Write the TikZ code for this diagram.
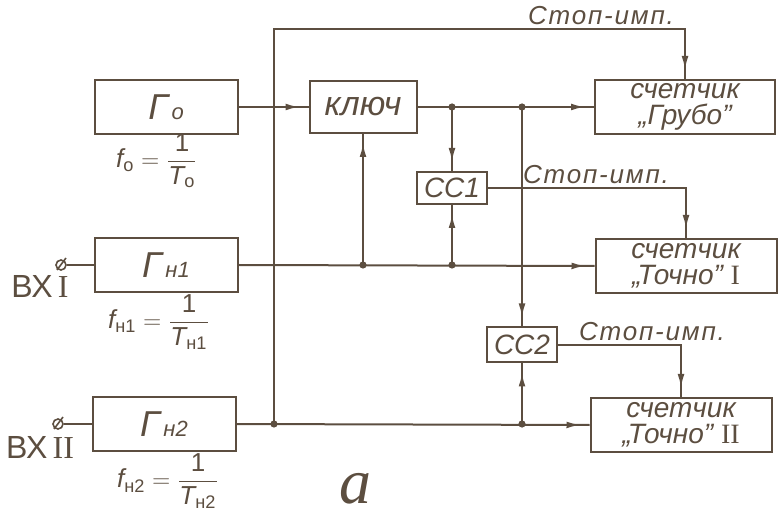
\documentclass[tikz,border=0pt]{standalone}
\usepackage{amsmath}
\usepackage{fontspec}
\setmainfont{Liberation Sans}
\newfontfamily\romfont{Liberation Serif}
\newfontfamily\handfont[LetterSpace=7]{Liberation Sans}
\usetikzlibrary{arrows.meta, decorations.markings, calc}
\definecolor{inkbrown}{RGB}{92,78,64}

% generator symbol with its index
\newcommand{\gensym}[1]{Г{\fontsize{11}{12}\selectfont\,#1}}

\begin{document}
\begin{tikzpicture}[x=0.5pt, y=-0.5pt,
  every node/.style={font=\fontsize{15}{17}\selectfont\itshape, text=inkbrown},
  blk/.style={draw=inkbrown, line width=1pt, inner sep=1pt},
  gen/.style={blk, minimum width=71.5pt, minimum height=27pt,
              font=\fontsize{18}{20}\selectfont\itshape},
  cnt/.style={blk, minimum width=90.5pt, minimum height=27pt, align=center,
              font=\fontsize{14}{13}\selectfont\itshape},
  ccbox/.style={blk, minimum width=35pt, minimum height=16pt,
                font=\fontsize{14}{16}\selectfont\itshape},
  wire/.style={draw=inkbrown, line width=1pt},
  feed/.style={wire, postaction={decorate},
               decoration={markings, mark=at position -4.5pt with
                 {\arrow{Latex[length=7pt,width=3.4pt]}}}},
  term/.style={circle, draw=inkbrown, line width=0.8pt, inner sep=0pt,
               minimum size=5pt, fill=white},
  fml/.style={font=\fontsize{13}{15}\selectfont},
  inlbl/.style={font=\fontsize{16}{18}\selectfont},
  stoplbl/.style={anchor=base, inner sep=1pt,
                  font=\handfont\fontsize{13}{14}\selectfont\itshape},
]
\useasboundingbox (0,0) rectangle (780,517);

%% -- generators ------------------------------------------------------
\node[gen] (gen0)  at (166,107) {\gensym{о}};
\node[gen] (genH1) at (166,265) {\gensym{н1}};
\node[gen] (genH2) at (164,424) {\gensym{н2}};

\node[fml] (f0)  at (157,161) {$\text{\itshape f}_{\text{о}}=\dfrac{\text{1}}{\text{\itshape T}_{\text{о}}}$};
\node[fml] (fH1) at (159,322) {$\text{\itshape f}_{\text{н1}}=\dfrac{\text{1}}{\text{\itshape T}_{\text{н1}}}$};
\node[fml] (fH2) at (168,481) {$\text{\itshape f}_{\text{н2}}=\dfrac{\text{1}}{\text{\itshape T}_{\text{н2}}}$};

%% -- inputs ----------------------------------------------------------
\node[term] (inI)  at (61,265) {};
\node[term] (inII) at (58,424) {};
\node[inlbl] (lblI)  at (40,286) {ВХ\,{\romfont\upshape I}};
\node[inlbl] (lblII) at (40,447) {ВХ\,{\romfont\upshape II}};

%% -- key, coincidence circuits, counters -----------------------------
\node[blk, minimum width=53.5pt, minimum height=26pt,
      font=\fontsize{17}{19}\selectfont\itshape] (key) at (363,107) {ключ};
\node[ccbox] (cc1) at (452,188) {СС1};
\node[ccbox, minimum height=17.5pt] (cc2) at (522,345) {СС2};

\node[cnt, minimum width=90pt] (crude) at (685,107) {счетчик\\„Грубо”};
\node[cnt] (fine1) at (686,266) {счетчик\\„Точно” {\romfont\upshape I}};
\node[cnt] (fine2) at (681,425) {счетчик\\„Точно” {\romfont\upshape II}};

\node[stoplbl] (stop0) at (601,25)  {Стоп-имп.};
\node[stoplbl] (stop1) at (596,184) {Стоп-имп.};
\node[stoplbl] (stop2) at (652,341) {Стоп-имп.};

\node[anchor=base, inner sep=0pt,
      font=\fontsize{32}{36}\selectfont\romfont\itshape] (fig) at (355,503) {а};

%% -- junction points -------------------------------------------------
\coordinate (bustop) at (274,29);
\coordinate (jbus) at (bustop |- genH2.east);
\coordinate (j1)  at (cc1.north |- key.east);
\coordinate (j2)  at (cc2.north |- key.east);
\coordinate (jk)  at (key.south |- genH1.east);
\coordinate (jc1) at (cc1.south |- genH1.east);
\coordinate (jc2) at (cc2.south |- genH2.east);

%% -- connectors ------------------------------------------------------
\draw[wire] (inI.east)  -- (genH1.west);
\draw[wire] (inII.east) -- (genH2.west);
\draw[wire, line width=0.8pt] ($(inI)+(-4,5)$)  -- ($(inI)+(5,-7)$);
\draw[wire, line width=0.8pt] ($(inII)+(-4,5)$) -- ($(inII)+(5,-7)$);

\draw[feed] (gen0.east) -- (key.west);
\draw[feed] (key.east) -- (crude.west);
\draw[feed] (j1) -- (cc1.north);
\draw[feed] (j2) -- (cc2.north);

\draw[feed] (genH1.east) -- (fine1.west);
\draw[feed] (jk) -- (key.south);
\draw[feed] (jc1) -- (cc1.south);

\draw[feed] (genH2.east) -- (fine2.west);
\draw[feed] (jc2) -- (cc2.south);

%% stop pulses
\draw[feed] (jbus) -- (bustop) -| (crude.north);
\draw[feed] (cc1.east) -| (fine1.north);
\draw[feed] (cc2.east) -| (fine2.north);

\foreach \j in {jbus, j1, j2, jk, jc1, jc2}
  \fill[inkbrown] (\j) circle (1.8pt);

\end{tikzpicture}
\end{document}
